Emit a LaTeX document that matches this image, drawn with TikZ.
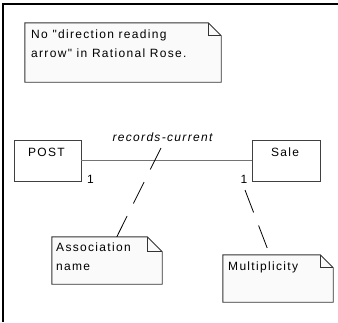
\documentclass[tikz,border=0pt]{standalone}
\usepackage{fontspec}
\setmainfont{Liberation Sans}[LetterSpace=11, Ligatures=TeXOff]
\usetikzlibrary{calc}
\newcommand\drawnote[2]{%
  \draw[noteline,fill=white!98!black] (#1.north west) -- ([xshift=-#2]#1.north east) -- ([yshift=-#2]#1.north east) -- (#1.south east) -- (#1.south west) -- cycle;
  \draw[noteline] ([xshift=-#2]#1.north east) |- ([yshift=-#2]#1.north east);
}
\begin{document}
\begin{tikzpicture}[x=1pt,y=-1pt,
  every node/.style={inner sep=0pt, font=\fontsize{12}{14}\selectfont},
  txt/.style={anchor=base west},
  classbox/.style={draw=black!75, fill=white, line width=0.9pt},
  noteline/.style={draw=black!80, line width=0.9pt},
  notearea/.style={draw=none},
  assoc/.style={draw=black!55, line width=0.9pt},
  dashline/.style={draw=black, line width=0.8pt, dash pattern=on 24pt off 14pt},
  frameline/.style={draw=black, line width=1.2pt}]
\useasboundingbox (0,0) rectangle (338,322);
% frame
\coordinate (ftl) at (3,4);
\coordinate (ftr) at (338,4);
\coordinate (fbl) at (3,322);
\draw[frameline] (ftr) -- (ftl) -- (fbl);
% note 1
\node[notearea, minimum width=196pt, minimum height=59pt] (n1) at (123,52.5) {};
\drawnote{n1}{13pt}
\node[txt] (n1a) at (31,38) {No "direction reading};
\node[txt] (n1b) at (31,57) {arrow" in Rational Rose.};
% classes
\node[classbox, minimum width=67pt, minimum height=41pt] (post) at (47.5,160.5) {};
\node[classbox, minimum width=68pt, minimum height=41pt] (sale) at (286,160.5) {};
\node[anchor=base] (postt) at (46.5,156.5) {POST};
\node[anchor=base] (salet) at (285,156.5) {Sale};
\draw[assoc] (post.east) -- (sale.west);
\node[anchor=base] (aname) at (162.5,141) {\itshape records-current};
\node[txt] (m1) at (87,183) {1};
\node[txt] (m2) at (240.5,183) {1};
% notes 2 and 3
\node[notearea, minimum width=110pt, minimum height=47pt] (n2) at (107,260.5) {};
\drawnote{n2}{15pt}
\node[txt] (n2a) at (56,251) {Association};
\node[txt] (n2b) at (56,270) {name};
\node[notearea, minimum width=110pt, minimum height=47pt] (n3) at (278,278.5) {};
\drawnote{n3}{13pt}
\node[txt] (n3a) at (228,270) {Multiplicity};
% connectors
\coordinate (c1) at (161,148);
\coordinate (c1e) at ($(n2.north west)+(65,0)$);
\coordinate (c2) at (245,190);
\coordinate (c2e) at ($(n3.north west)+(47,0)$);
\draw[dashline] (c1) -- (c1e);
\draw[dashline] (c2) -- (c2e);
\end{tikzpicture}
\end{document}
